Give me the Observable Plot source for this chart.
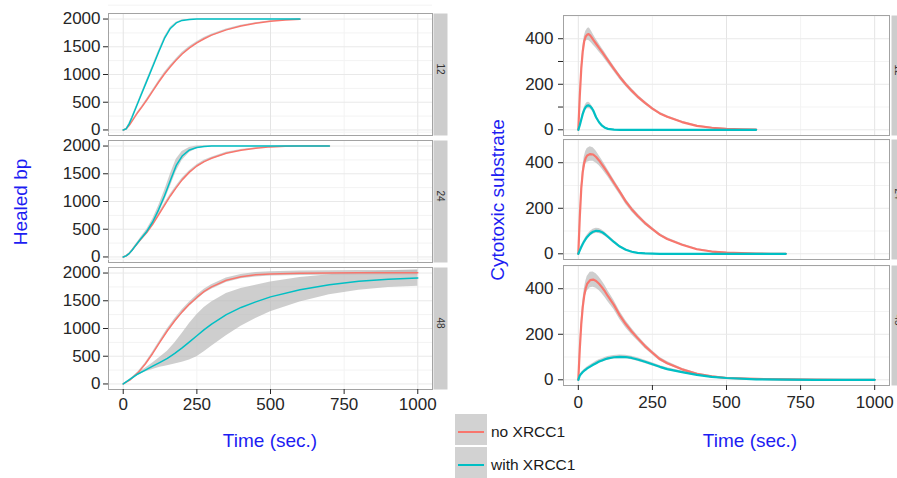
<!DOCTYPE html>
<html>
<head>
<meta charset="utf-8">
<script src="https://cdn.jsdelivr.net/npm/d3@7"></script>
<script src="https://cdn.jsdelivr.net/npm/@observablehq/plot@0.6"></script>
<style>
html,body{margin:0;padding:0;background:#fff;overflow:hidden;}
#root{position:relative;width:897px;height:478px;font-family:"Liberation Sans",Arial,Helvetica,sans-serif;}
.ttl{position:absolute;color:#1d1df2;font-size:19px;line-height:1;white-space:nowrap;transform:translate(-50%,-50%);}
.ttl.rot{transform:translate(-50%,-50%) rotate(-90deg);}
.key{position:absolute;background:#d2d2d2;}
.keyline{position:absolute;height:2px;}
.ktxt{position:absolute;font-size:15.5px;line-height:1;color:#1a1a1a;white-space:nowrap;transform:translateY(-50%);}
</style>
</head>
<body>
<div id="root"></div>
<script>
// ---------- categories ----------
const seriesNames = ["no XRCC1", "with XRCC1"];
const seriesColors = ["#F8766D", "#00BFC4"];
const facetLabels = ["12", "24", "48"];
const xTickValues = [0, 250, 500, 750, 1000];
const healTicks = [0, 500, 1000, 1500, 2000];
const cytoTicks = [0, 200, 400];

// ---------- Healed bp, facet 12 ----------
const hT12 = [0,10,20,30,40,50,60,80,100,120,140,160,180,200,225,250,275,300,350,400,450,500,550,600];
const hNo12 = [0,20,80,160,240,320,390,540,700,860,1010,1140,1260,1370,1480,1570,1645,1710,1805,1875,1925,1960,1982,1995];
const hNo12Err = [0,5,8,10,12,14,15,18,20,22,24,25,25,25,24,22,20,18,15,12,10,8,6,5];
const hWith12 = [0,20,110,230,360,490,620,880,1140,1400,1650,1830,1930,1975,1993,2000,2000,2000,2000,2000,2000,2000,2000,2000];
const hWith12Err = [0,5,10,15,18,20,22,25,28,30,28,20,12,8,5,3,2,2,2,2,2,2,2,2];

// ---------- Healed bp, facet 24 ----------
const hT24 = [0,10,20,30,40,50,60,80,100,120,140,160,180,200,225,250,275,300,350,400,450,500,550,600,650,700];
const hNo24 = [0,20,60,120,190,255,320,440,590,760,930,1100,1250,1390,1530,1640,1720,1780,1870,1925,1960,1985,1995,2000,2000,2000];
const hNo24Err = [0,5,8,10,12,15,18,20,22,25,28,30,30,28,26,24,22,20,16,12,10,8,6,5,5,5];
const hWith24 = [0,20,60,120,190,260,330,460,630,850,1100,1380,1650,1820,1930,1975,1992,2000,2000,2000,2000,2000,2000,2000,2000,2000];
const hWith24Err = [0,5,8,12,16,20,25,35,50,70,90,110,110,80,45,25,12,6,4,3,3,3,3,3,3,3];

// ---------- Healed bp, facet 48 ----------
const hT48 = [0,25,50,75,100,125,150,175,200,225,250,275,300,350,400,450,500,600,700,800,900,1000];
const hNo48 = [0,80,200,360,550,760,960,1140,1300,1440,1560,1670,1750,1870,1935,1968,1985,1995,2000,2005,2005,2005];
const hNo48Err = [0,10,15,20,25,30,35,38,40,40,40,40,40,40,40,40,40,40,40,40,40,40];
const hWith48 = [0,90,180,250,320,390,460,550,650,760,870,980,1080,1250,1380,1480,1570,1700,1790,1850,1890,1910];
const hWith48Err = [0,10,20,35,60,90,130,190,260,330,380,400,400,380,340,300,270,220,180,160,150,150];

// ---------- Cytotoxic substrate, facet 12 ----------
const cT12 = [0,5,10,15,20,25,30,35,40,45,50,60,70,80,90,100,120,140,160,180,200,225,250,275,300,350,400,450,500,550,600];
const cNo12 = [0,150,270,345,390,410,418,420,415,406,396,378,360,342,324,305,268,232,200,172,146,118,93,72,57,34,17,9,4,2,1];
const cNo12Err = [0,10,15,18,20,22,25,28,28,26,24,20,18,16,15,14,12,11,10,9,8,7,6,5,5,4,3,2,2,1,1];
const cWith12 = [0,20,45,70,88,100,106,107,104,96,86,55,33,18,9,4,1,0,0,0,0,0,0,0,0,0,0,0,0,0,0];
const cWith12Err = [0,4,6,8,10,12,14,14,13,11,9,7,5,4,3,2,1,0,0,0,0,0,0,0,0,0,0,0,0,0,0];

// ---------- Cytotoxic substrate, facet 24 ----------
const cT24 = [0,5,10,15,20,25,30,40,50,60,70,80,90,100,120,140,160,180,200,225,250,275,300,350,400,450,500,550,600,650,700];
const cNo24 = [0,162,288,360,400,421,432,438,436,425,410,392,373,353,312,272,230,196,167,135,108,83,65,40,20,10,5,3,1,0,0];
const cNo24Err = [0,12,18,22,25,28,30,32,30,26,22,20,18,16,14,13,12,11,10,8,7,6,5,4,3,2,2,1,1,0,0];
const cWith24 = [0,15,30,43,55,65,74,88,97,101,100,95,86,75,52,32,18,9,4,2,1,0,0,0,0,0,0,0,0,0,0];
const cWith24Err = [0,3,5,6,7,8,9,10,11,11,11,10,9,8,7,5,4,3,2,1,1,0,0,0,0,0,0,0,0,0,0];

// ---------- Cytotoxic substrate, facet 48 ----------
const cT48 = [0,5,10,15,20,25,30,40,50,60,70,80,90,100,120,140,160,180,200,225,250,275,300,350,400,450,500,600,700,800,900,1000];
const cNo48 = [0,137,246,320,370,402,422,438,440,434,422,406,388,367,329,283,245,212,183,148,119,91,73,46,26,15,8,4,2,1,0,0];
const cNo48Err = [0,15,20,25,28,30,32,34,34,32,30,28,26,24,20,18,16,14,12,10,9,8,7,5,4,3,2,1,1,0,0,0];
const cWith48 = [0,18,27,34,40,45,50,58,66,73,80,85,90,94,99,101,100,96,89,79,68,57,47,34,22,13,8,2,1,0,0,0];
const cWith48Err = [0,3,4,5,5,6,6,7,7,8,8,8,8,8,8,8,8,8,8,7,7,6,6,5,4,3,2,1,1,0,0,0];

// ---------- build ----------
const root = document.getElementById("root");
const FONT = '"Liberation Sans", Arial, Helvetica, sans-serif';

function rowsFor(times, pairs) {
  const rows = [];
  pairs.forEach(([vals, errs], s) => {
    times.forEach((t, i) => rows.push({t, series: seriesNames[s], v: vals[i], lo: vals[i] - errs[i], hi: vals[i] + errs[i]}));
  });
  return rows;
}

function facet(cfg) {
  const rows = rowsFor(cfg.times, cfg.pairs);
  const panelW = cfg.width - cfg.marginLeft - cfg.marginRight;
  const mb = cfg.showX ? 50 : 2;
  const step = cfg.yTicks[1] - cfg.yTicks[0];
  const yMinor = cfg.yTicks.map(d => d + step / 2);
  const marks = [
    Plot.gridX([250, 750], {stroke: "#f3f3f3", strokeOpacity: 1}),
    Plot.gridY(yMinor, {stroke: "#f3f3f3", strokeOpacity: 1}),
    Plot.gridX([0, 500, 1000], {stroke: "#e4e4e4", strokeOpacity: 1}),
    Plot.gridY(cfg.yTicks, {stroke: "#e9e9e9", strokeOpacity: 1}),
    Plot.areaY(rows, {x: "t", y1: "lo", y2: "hi", z: "series", fill: "#b9b9b9", fillOpacity: 0.7}),
    Plot.lineY(rows, {x: "t", y: "v", z: "series", stroke: "series", strokeWidth: cfg.lineW}),
    Plot.frame({stroke: "#a3a3a3"}),
    Plot.frame({fill: "#cdcdcd", insetLeft: panelW + cfg.stripGap, insetRight: -(cfg.stripGap + cfg.stripW)}),
    Plot.text([cfg.label], {text: d => d, frameAnchor: "right", dx: cfg.stripGap + cfg.stripW / 2, rotate: 90, fontSize: 10, fill: "#333"}),
    Plot.axisY(cfg.yTicks, {tickSize: 5, tickPadding: cfg.yPad, fontSize: 17, tickFormat: d => String(d), label: null})
  ];
  if (cfg.extraTicks) marks.push(Plot.axisY(cfg.extraTicks, {tickSize: 5, tickPadding: 0, tickFormat: () => "", label: null}));
  if (cfg.showX) marks.push(Plot.axisX(xTickValues, {tickSize: 5, tickPadding: cfg.xPad, fontSize: 17, tickFormat: d => String(d), label: null}));
  const xScale = {domain: [-50, 1050], label: null};
  if (!cfg.showX) xScale.axis = null;
  const svg = Plot.plot({
    width: cfg.width,
    height: cfg.marginTop + cfg.panelH + mb,
    marginTop: cfg.marginTop, marginBottom: mb,
    marginLeft: cfg.marginLeft, marginRight: cfg.marginRight,
    x: xScale,
    y: {domain: cfg.yDomain, label: null},
    color: {domain: seriesNames, range: seriesColors},
    style: {position: "absolute", left: cfg.left + "px", top: cfg.top + "px", overflow: "visible", background: "transparent", fontFamily: FONT, color: "#262626", maxWidth: "none"},
    marks
  });
  root.appendChild(svg);
}

const leftBase = {left: 0, width: 455, marginLeft: 108, marginRight: 23, marginTop: 13, panelH: 122, stripGap: 1, stripW: 14, yPad: 3, xPad: 3, lineW: 1.5, yTicks: healTicks, yDomain: [-100, 2100]};
facet({...leftBase, top: 0, label: facetLabels[0], times: hT12, pairs: [[hNo12, hNo12Err], [hWith12, hWith12Err]]});
facet({...leftBase, top: 127, label: facetLabels[1], times: hT24, pairs: [[hNo24, hNo24Err], [hWith24, hWith24Err]]});
facet({...leftBase, top: 254, label: facetLabels[2], times: hT48, pairs: [[hNo48, hNo48Err], [hWith48, hWith48Err]], showX: true});

const rightBase = {left: 455, width: 442, marginLeft: 108, marginRight: 8, marginTop: 15, panelH: 120, stripGap: 2, stripW: 14, yPad: 5, xPad: 5, lineW: 2.2, yTicks: cytoTicks, yDomain: [-25, 502]};
facet({...rightBase, top: 0, label: facetLabels[0], extraTicks: [100, 300], times: cT12, pairs: [[cNo12, cNo12Err], [cWith12, cWith12Err]]});
facet({...rightBase, top: 124, label: facetLabels[1], times: cT24, pairs: [[cNo24, cNo24Err], [cWith24, cWith24Err]]});
facet({...rightBase, top: 250, label: facetLabels[2], times: cT48, pairs: [[cNo48, cNo48Err], [cWith48, cWith48Err]], showX: true});

// ---------- titles ----------
function title(text, x, y, rot) {
  const d = document.createElement("div");
  d.className = "ttl" + (rot ? " rot" : "");
  d.style.left = x + "px"; d.style.top = y + "px";
  d.textContent = text;
  root.appendChild(d);
}
title("Healed bp", 20, 202, true);
title("Cytotoxic substrate", 497, 200, true);
title("Time (sec.)", 270, 440, false);
title("Time (sec.)", 750, 440, false);

// ---------- legend ----------
seriesNames.forEach((name, i) => {
  const top = 414 + i * 33;
  const box = document.createElement("div");
  box.className = "key";
  Object.assign(box.style, {left: "455px", top: top + "px", width: "32px", height: "31px"});
  root.appendChild(box);
  const ln = document.createElement("div");
  ln.className = "keyline";
  Object.assign(ln.style, {left: "458px", top: (top + 17) + "px", width: "26px", background: seriesColors[i]});
  root.appendChild(ln);
  const tx = document.createElement("div");
  tx.className = "ktxt";
  Object.assign(tx.style, {left: "491px", top: (top + 18) + "px"});
  tx.textContent = name;
  root.appendChild(tx);
});
</script>
</body>
</html>
